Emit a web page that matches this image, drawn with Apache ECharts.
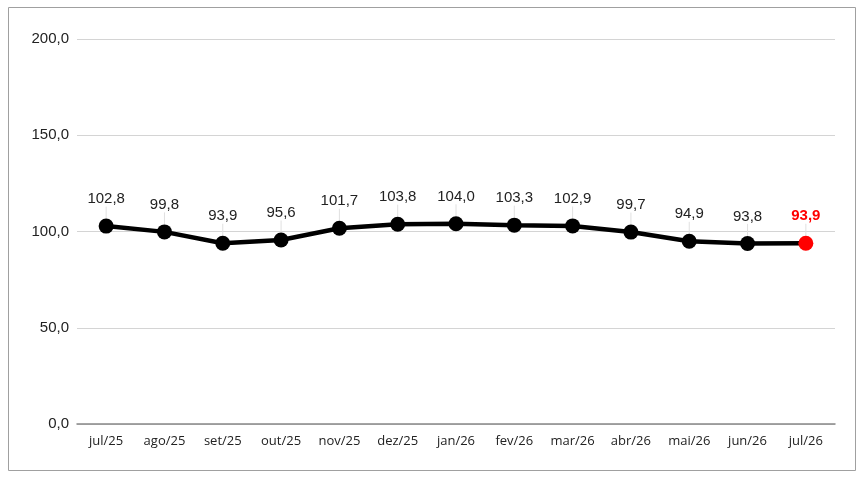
<!DOCTYPE html>
<html>
<head>
<meta charset="utf-8">
<script src="https://cdn.jsdelivr.net/npm/echarts@6/dist/echarts.min.js"></script>
<style>
html,body{margin:0;padding:0;background:#fff;}
#c{width:862px;height:478px;}
</style>
</head>
<body>
<div id="c"></div>
<script>
var categories = ['jul/25','ago/25','set/25','out/25','nov/25','dez/25','jan/26','fev/26','mar/26','abr/26','mai/26','jun/26','jul/26'];
var values = [102.8, 99.8, 93.9, 95.6, 101.7, 103.8, 104.0, 103.3, 102.9, 99.7, 94.9, 93.8, 93.9];
var yTicks = [0, 50, 100, 150, 200];

function fmt(v){ return v.toFixed(1).replace('.', ','); }

var lastIdx = values.length - 1;
var seriesData = values.map(function(v, i){
  if (i === lastIdx) {
    return {
      value: v,
      itemStyle: {color: '#ff0000'},
      label: {color: '#ff0000', fontWeight: 'bold'}
    };
  }
  return v;
});

var chart = echarts.init(document.getElementById('c'), null, {renderer: 'canvas'});
chart.setOption({
  animation: false,
  backgroundColor: '#fff',
  graphic: [{
    type: 'rect',
    shape: {x: 8.5, y: 7.5, width: 847, height: 463},
    style: {fill: 'none', stroke: '#a0a0a0', lineWidth: 1},
    silent: true
  }],
  grid: {left: 77, right: 27, top: 39, bottom: 54, containLabel: false},
  xAxis: {
    type: 'category',
    data: categories,
    boundaryGap: true,
    axisLine: {lineStyle: {color: '#888', width: 1.5}},
    axisTick: {show: false},
    axisLabel: {color: '#222', fontFamily: 'Open Sans', fontSize: 13, margin: 11}
  },
  yAxis: {
    type: 'value',
    min: yTicks[0],
    max: yTicks[yTicks.length - 1],
    interval: yTicks[1] - yTicks[0],
    axisLine: {show: false},
    axisTick: {show: false},
    splitLine: {lineStyle: {color: '#d4d4d4', width: 1}},
    axisLabel: {color: '#222', fontFamily: 'Liberation Sans', fontSize: 15, margin: 8,
      formatter: function(v){ return fmt(v); }}
  },
  series: [{
    type: 'line',
    data: seriesData,
    symbol: 'circle',
    symbolSize: 15,
    lineStyle: {color: '#000', width: 4.5},
    itemStyle: {color: '#000'},
    label: {
      show: true,
      position: 'top',
      distance: 6,
      color: '#222',
      fontFamily: 'Liberation Sans',
      fontSize: 15,
      formatter: function(p){ return fmt(p.value); }
    },
    labelLayout: {dy: -6},
    labelLine: {show: true, lineStyle: {color: '#e0e0e0', width: 1}}
  }]
});
</script>
</body>
</html>
